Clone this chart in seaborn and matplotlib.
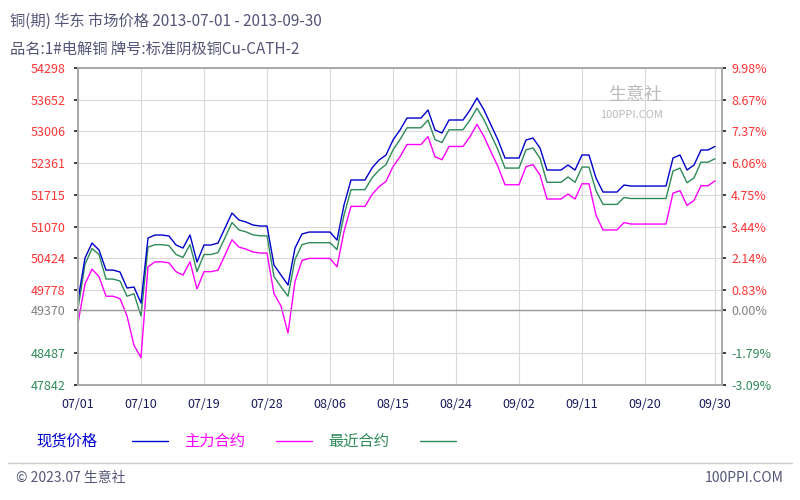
import matplotlib
matplotlib.use("Agg")
import matplotlib.pyplot as plt
import seaborn as sns
import pandas as pd
import numpy as np

sns.set_theme(style="white")
plt.rcParams['font.family'] = ['Noto Sans CJK SC', 'DejaVu Sans']

spot = [49572,50428,50733,50591,50183,50183,50143,49817,49837,49511,
        50835,50896,50896,50876,50693,50631,50896,50346,50693,50693,
        50733,51039,51344,51202,51161,51100,51080,51080,50285,50081,
        49878,50631,50917,50957,50957,50957,50957,50794,51507,52017,
        52017,52017,52261,52424,52526,52831,53035,53279,53279,53279,
        53442,53035,52974,53239,53239,53239,53442,53687,53442,53137,
        52831,52465,52465,52465,52831,52872,52668,52220,52220,52220,
        52322,52220,52526,52526,52057,51772,51772,51772,51915,51894,
        51894,51894,51894,51894,51894,52465,52526,52220,52322,52628,
        52628,52700]
near = [49400,50300,50620,50500,50000,50000,49960,49650,49700,49250,
        50650,50700,50700,50680,50500,50440,50700,50150,50500,50500,
        50540,50840,51150,51000,50960,50900,50880,50880,50050,49840,
        49650,50400,50700,50740,50740,50740,50740,50600,51300,51820,
        51820,51820,52060,52220,52330,52630,52840,53080,53080,53080,
        53240,52840,52780,53040,53040,53040,53240,53480,53240,52940,
        52630,52260,52260,52260,52630,52670,52460,51970,51970,51970,
        52080,51970,52280,52280,51800,51520,51520,51520,51660,51640,
        51640,51640,51640,51640,51640,52200,52260,51960,52060,52380,
        52380,52450]
main = [49100,49900,50200,50050,49650,49650,49600,49250,48650,48800,
        50250,50350,50350,50330,50150,50080,50350,49800,50150,50150,
        50180,50490,50800,50650,50610,50550,50530,50530,49700,49450,
        48900,49950,50380,50420,50420,50420,50420,50250,50970,51480,
        51480,51480,51720,51880,51990,52290,52490,52740,52740,52740,
        52900,52490,52430,52700,52700,52700,52900,53150,52900,52590,
        52290,51920,51920,51920,52290,52330,52120,51630,51630,51630,
        51730,51630,51940,51940,51300,51000,51000,51000,51150,51120,
        51120,51120,51120,51120,51120,51750,51800,51500,51600,51900,
        51900,52000]
# slightly deeper dip for main contract around 07/09-07/10
main[9] = 48400

left_ticks = [54298,53652,53006,52361,51715,51070,50424,49778,49370,48487,47842]
right_labels = ["9.98%","8.67%","7.37%","6.06%","4.75%","3.44%","2.14%","0.83%","0.00%","-1.79%","-3.09%"]
xtick_pos = [0,9,18,27,36,45,54,63,72,81,91]
xtick_lab = ["07/01","07/10","07/19","07/28","08/06","08/15","08/24","09/02","09/11","09/20","09/30"]
base = 49370

df = pd.DataFrame({"day": np.arange(len(spot)), "现货价格": spot, "主力合约": main, "最近合约": near})

fig = plt.figure(figsize=(8,5), dpi=100)
fig.patch.set_facecolor("white")
ax = fig.add_axes([0.0975, 0.23, 0.805, 0.634])
ax.set_facecolor("white")

colors = {"现货价格": "#0000cc", "主力合约": "#ff00ff", "最近合约": "#2e8b57"}
for name in ["主力合约", "最近合约", "现货价格"]:
    sns.lineplot(data=df, x="day", y=name, ax=ax, color=colors[name], lw=1.0, legend=False)

ax.set_xlim(0, 92)
ax.set_ylim(47842, 54298)
ax.set_yticks(left_ticks)
ax.set_yticklabels([str(t) for t in left_ticks], fontsize=9)
for lab, t in zip(ax.get_yticklabels(), left_ticks):
    lab.set_color("#ff3333" if t > base else ("#808080" if t == base else "#2e8b57"))
ax.set_xticks(xtick_pos)
ax.set_xticklabels(xtick_lab, fontsize=9, color="#1a1a5e")
ax.set_xlabel(""); ax.set_ylabel("")
ax.grid(True, color="#d8d8d8", lw=0.8)
ax.axhline(base, color="#999999", lw=1)
for s in ax.spines.values():
    s.set_color("#aaaaaa")
ax.tick_params(length=3, pad=6)

ax2 = ax.twinx()
ax2.set_ylim(47842, 54298)
ax2.set_yticks(left_ticks)
ax2.set_yticklabels(right_labels, fontsize=9)
for lab, t in zip(ax2.get_yticklabels(), left_ticks):
    lab.set_color("#ff3333" if t > base else ("#808080" if t == base else "#2e8b57"))
ax2.tick_params(length=3)
for s in ax2.spines.values():
    s.set_color("#aaaaaa")

fig.text(0.012, 0.958, "铜(期) 华东 市场价格 2013-07-01 - 2013-09-30", fontsize=11, color="#555577", va="center")
fig.text(0.012, 0.902, "品名:1#电解铜 牌号:标准阴极铜Cu-CATH-2", fontsize=11, color="#555577", va="center")
fig.text(0.76, 0.81, "生意社", fontsize=13, color="#bbbbbb", va="center")
fig.text(0.75, 0.77, "100PPI.COM", fontsize=8, color="#bbbbbb", va="center")

# legend
ly = 0.118
items = [("现货价格", 0.045, 0.165), ("主力合约", 0.23, 0.345), ("最近合约", 0.41, 0.525)]
for name, tx, lx in items:
    fig.text(tx, ly, name, fontsize=11, color=colors[name] if name != "现货价格" else "#0000cc", va="center")
    fig.add_artist(plt.Line2D([lx, lx+0.045], [ly, ly], color=colors[name], lw=1, transform=fig.transFigure))
fig.add_artist(plt.Line2D([0.01, 0.99], [0.075, 0.075], color="#cccccc", lw=1, transform=fig.transFigure))
fig.text(0.02, 0.044, "© 2023.07 生意社", fontsize=10, color="#555577", va="center")
fig.text(0.98, 0.044, "100PPI.COM", fontsize=10, color="#555577", va="center", ha="right")

fig.savefig("out.png", dpi=100)
